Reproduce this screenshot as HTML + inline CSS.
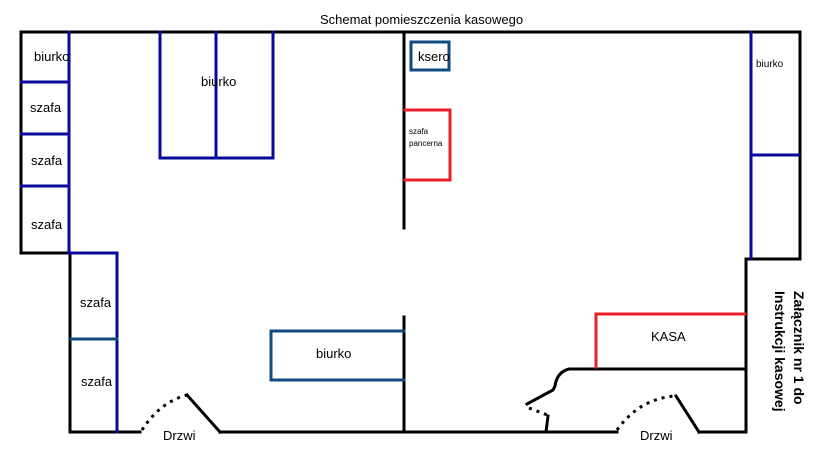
<!DOCTYPE html>
<html><head><style>
body{margin:0;background:#fff;}
svg{display:block;font-family:"Liberation Sans",sans-serif;}
</style></head><body>
<svg width="819" height="460" viewBox="0 0 819 460">
<g fill="none" stroke-width="3" stroke-linecap="square">
<!-- black walls -->
<g stroke="#000">
<polyline points="21,253 21,32 800,32 800,259 746,259 746,432 699,432"/>
<line x1="676" y1="396" x2="699" y2="432"/>
<line x1="21" y1="253" x2="70" y2="253"/>
<polyline points="70,253 70,432 140,432"/>
<line x1="187" y1="395" x2="220" y2="432"/>
<line x1="220" y1="432" x2="617" y2="432"/>
<line x1="404" y1="32" x2="404" y2="228"/>
<line x1="404" y1="317" x2="404" y2="432"/>
<path d="M746,369 L569,369 Q557,372 555,386 L553,390 L527,404"/>
<line x1="548" y1="416" x2="546" y2="432"/>
</g>
<g stroke="#000" stroke-dasharray="3,5" stroke-linecap="butt">
<path d="M142,430 Q160,402 187,395"/>
<path d="M617,430 Q640,398 676,396"/>
<path d="M529,408 L550,416"/>
</g>
<!-- blue furniture -->
<g stroke="#0a0a9a">
<line x1="69" y1="32" x2="69" y2="253"/>
<line x1="21" y1="82" x2="69" y2="82"/>
<line x1="21" y1="134" x2="69" y2="134"/>
<line x1="21" y1="186" x2="69" y2="186"/>
<polyline points="160,32 160,158 273,158 273,32"/>
<line x1="216" y1="32" x2="216" y2="158"/>
<polyline points="71,253 117,253 117,432"/>
<line x1="751" y1="32" x2="751" y2="258"/>
<line x1="751" y1="155" x2="799" y2="155"/>
</g>
<g stroke="#114a82">
<line x1="71" y1="339" x2="117" y2="339"/>
<polyline points="404,331 271,331 271,380 404,380"/>
<rect x="411" y="42" width="38" height="28"/>
</g>
<g stroke="#e8202a">
<polyline points="405,110 450,110 450,180 405,180"/>
<polyline points="745,314 596,314 596,367"/>
</g>
</g>
<g font-size="13" fill="#000">
<text x="320" y="24">Schemat pomieszczenia kasowego</text>
<text x="34" y="61">biurko</text>
<text x="30" y="112">szafa</text>
<text x="31" y="165">szafa</text>
<text x="31" y="229">szafa</text>
<text x="201" y="86">biurko</text>
<text x="80" y="307">szafa</text>
<text x="81" y="386">szafa</text>
<text x="316" y="358">biurko</text>
<text x="418" y="61">ksero</text>
<text x="651" y="341">KASA</text>
<text x="163" y="440">Drzwi</text>
<text x="640" y="440">Drzwi</text>
<text x="756" y="67" font-size="10">biurko</text>
<text x="409" y="134" font-size="8">szafa</text>
<text x="409" y="146" font-size="8">pancerna</text>
<text transform="translate(794,291) rotate(90)" font-size="14" font-weight="bold">Załącznik nr 1 do</text>
<text transform="translate(775,291) rotate(90)" font-size="14" font-weight="bold">Instrukcji kasowej</text>
</g>
</svg>
</body></html>
